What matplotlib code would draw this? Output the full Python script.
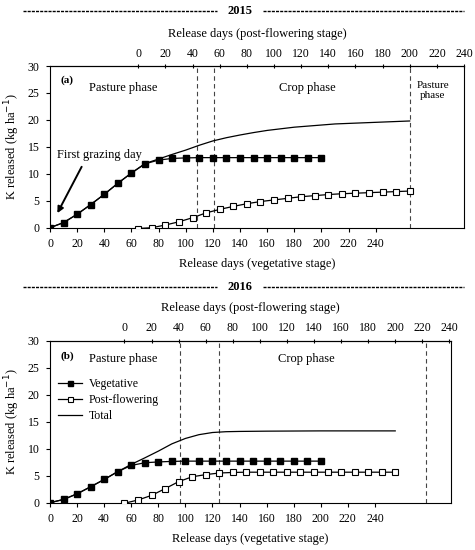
import matplotlib.pyplot as plt
from matplotlib.lines import Line2D
import numpy as np

plt.rcParams['font.family'] = ['Liberation Serif', 'DejaVu Serif']

# ---------------- data ----------------
# 2015
veg_days_15 = [0, 10, 20, 30, 40, 50, 60, 70, 80, 90, 100, 110, 120, 130, 140,
               150, 160, 170, 180, 190, 200]
veg_k_15 = [0, 0.95, 2.5, 4.3, 6.2, 8.25, 10.15, 11.85, 12.55, 12.85, 12.95, 13.0,
            13.0, 13.0, 13.0, 13.0, 13.0, 13.0, 13.0, 13.0, 13.0]
post_days_15 = [0, 10, 20, 30, 40, 50, 60, 70, 80, 90, 100, 110, 120, 130, 140,
                150, 160, 170, 180, 190, 200]
post_k_15 = [-0.15, 0.0, 0.5, 1.1, 1.85, 2.75, 3.4, 3.95, 4.45, 4.85, 5.15, 5.45,
             5.75, 5.95, 6.15, 6.3, 6.4, 6.5, 6.6, 6.7, 6.8]
total_days_15 = [0, 10, 20, 30, 40, 50, 60, 70, 80, 90, 100, 110, 120, 130, 140,
                 150, 160, 170, 180, 190, 200, 210, 220, 230, 240, 250, 265]
total_k_15 = [0, 0.95, 2.5, 4.3, 6.2, 8.25, 10.15, 11.9, 12.75, 13.6, 14.4, 15.3,
              16.1, 16.7, 17.2, 17.65, 18.05, 18.35, 18.65, 18.85, 19.05, 19.25,
              19.35, 19.45, 19.55, 19.65, 19.8]

# 2016
veg_days_16 = veg_days_15
veg_k_16 = [0, 0.6, 1.65, 2.95, 4.3, 5.75, 6.9, 7.4, 7.55, 7.65, 7.7, 7.7, 7.7,
            7.7, 7.7, 7.7, 7.7, 7.7, 7.7, 7.7, 7.7]
post_days_16 = post_days_15
post_k_16 = [-0.1, 0.5, 1.35, 2.6, 3.9, 4.8, 5.2, 5.5, 5.6, 5.65, 5.65, 5.65, 5.65,
             5.65, 5.65, 5.65, 5.65, 5.65, 5.65, 5.65, 5.65]
total_days_16 = [0, 10, 20, 30, 40, 50, 60, 70, 80, 90, 100, 110, 120, 130, 140,
                 160, 200, 255]
total_k_16 = [0, 0.6, 1.65, 2.95, 4.3, 5.75, 7.1, 8.3, 9.55, 10.9, 11.9, 12.6,
              13.0, 13.15, 13.2, 13.25, 13.3, 13.3]

ticks = list(range(0, 241, 20))
y_ticks = [0, 5, 10, 15, 20, 25, 30]

fig = plt.figure(figsize=(4.75, 5.5), dpi=100)


def panel(rect, xmax, offset, veg_x, veg_y, post_x, post_y, tot_x, tot_y,
          vlines, tag, tag_y, phase_y):
    ax = fig.add_axes(rect)
    ax.plot(tot_x, tot_y, color='black', lw=0.9, label='Total', zorder=2)
    ax.plot(veg_x, veg_y, color='black', lw=0.9, marker='s', ms=4.5,
            mfc='black', label='Vegetative', zorder=3)
    ax.plot(np.array(post_x) + offset, post_y, color='black', lw=0.9, marker='s',
            ms=4.5, mfc='white', mew=0.8, label='Post-flowering', zorder=3)
    for v in vlines:
        ax.axvline(v + offset, color='#444444', lw=0.8, dashes=(4, 3), zorder=1)
    ax.set_xlim(0, xmax)
    ax.set_ylim(0, 30)
    ax.set_xticks(ticks)
    ax.set_yticks(y_ticks)
    ax.tick_params(labelsize=8.5, length=3, width=0.8, direction='out', pad=4.5)
    ax.set_xlabel('Release days (vegetative stage)', fontsize=9, labelpad=6)
    ax.set_ylabel('K released (kg ha$^{-1}$)', fontsize=9, labelpad=4)
    sec = ax.secondary_xaxis('top', functions=(lambda x: x - offset,
                                               lambda x: x + offset))
    sec.set_xticks(ticks)
    sec.tick_params(labelsize=8.5, length=3, width=0.8, direction='inout', pad=3)
    sec.set_xlabel('Release days (post-flowering stage)', fontsize=9, labelpad=8)
    for s in ax.spines.values():
        s.set_linewidth(0.8)
    ax.text(8, tag_y, tag, fontsize=8, fontweight='bold', ha='left', va='center')
    ax.text(54, phase_y, 'Pasture phase', fontsize=9, ha='center', va='center')
    ax.text(189.5, phase_y, 'Crop phase', fontsize=9, ha='center', va='center')
    return ax


# 2015 panel
ax1 = panel([0.1053, 0.586, 0.8716, 0.294], 305, 65,
            veg_days_15, veg_k_15, post_days_15, post_k_15,
            total_days_15, total_k_15, [43, 56, 200], '(a)', 27.4, 25.9)
ax1.text(282, 25.4, 'Pasture\nphase', fontsize=8, ha='center', va='center',
         linespacing=1.2)
ax1.text(4.8, 13.5, 'First grazing day', fontsize=9, ha='left', va='center')
ax1.annotate('', xy=(5.4, 2.7), xytext=(23.3, 11.3),
             arrowprops=dict(arrowstyle='-|>', color='black', lw=1.4,
                             shrinkA=0, shrinkB=0, mutation_scale=9))

# 2016 panel
ax2 = panel([0.1053, 0.086, 0.8436, 0.2945], 296, 55,
            veg_days_16, veg_k_16, post_days_16, post_k_16,
            total_days_16, total_k_16, [41, 70, 223], '(b)', 27.2, 26.6)
h, l = ax2.get_legend_handles_labels()
ax2.legend([h[1], h[2], h[0]], [l[1], l[2], l[0]], loc='upper left',
           bbox_to_anchor=(0.0, 0.82), frameon=False, fontsize=8.5,
           handlelength=2.0, handletextpad=0.6, labelspacing=0.35,
           markerscale=0.8, borderaxespad=0.3)

# year headers
for yf, year in [(1 - 11 / 550, '2015'), (1 - 287 / 550, '2016')]:
    fig.add_artist(Line2D([23 / 475, 217 / 475], [yf, yf], color='black',
                          lw=1.0, dashes=(2.2, 0.8)))
    fig.add_artist(Line2D([263 / 475, 464 / 475], [yf, yf], color='black',
                          lw=1.0, dashes=(2.2, 0.8)))
    fig.text(240 / 475, yf, year, fontsize=9, fontweight='bold',
             ha='center', va='center')

fig.savefig('out.png', dpi=100)
